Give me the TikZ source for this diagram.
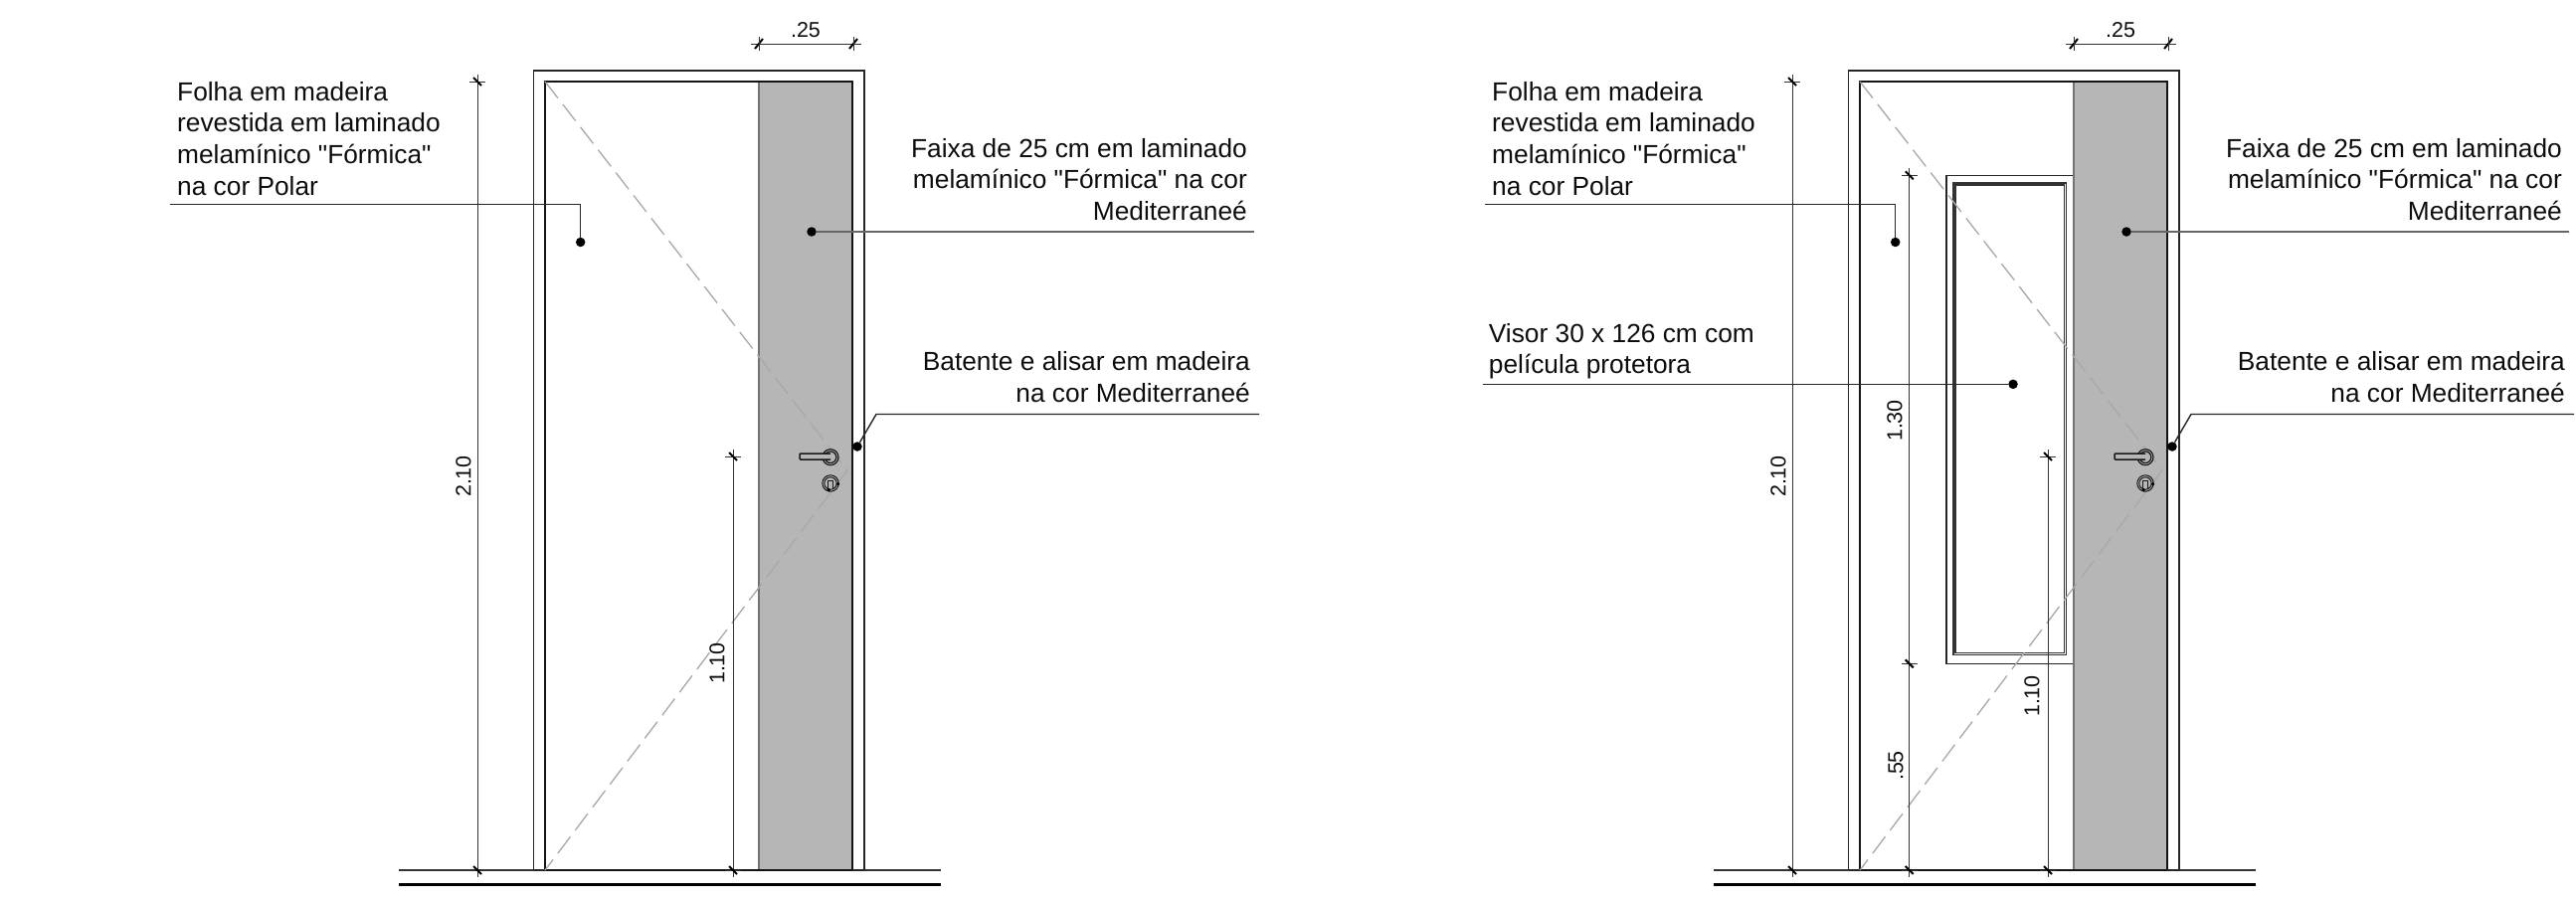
\documentclass[tikz,border=0pt]{standalone}
\usepackage{fontspec}
\setmainfont[Ligatures=TeXOff]{Liberation Sans}
\definecolor{stripe}{HTML}{B6B6B6}
\definecolor{diag}{HTML}{A8A8A8}
\tikzset{
  thinline/.style={line width=1pt,black!80},
  frameline/.style={line width=1.6pt,black!85},
  innerline/.style={line width=2pt,black!92},
  stripeedge/.style={line width=1.6pt,black!55},
  diagline/.style={line width=1.3pt,diag,dash pattern=on 21pt off 8pt},
  ticktip/.style={line width=2pt,black},
  leader/.style={line width=1.4pt,black!85},
  dotmark/.style={circle,fill=black,inner sep=0pt,minimum size=9.5pt},
  note/.style={inner sep=0pt,font=\fontsize{26.3pt}{31.7pt}\selectfont,text=black!95},
  dimtext/.style={inner sep=0pt,font=\fontsize{21.5pt}{24pt}\selectfont,text=black!95},
  hw/.style={line width=1.2pt,black!90},
}
\newcommand{\vtick}[2]{%
  \draw[thinline] (#1-8,#2) -- (#1+8,#2);
  \draw[ticktip] (#1-4,#2-4) -- (#1+4,#2+4);}
\newcommand{\doorbase}[1]{%
  \coordinate (fl) at (401,875); \coordinate (fr) at (946,875);
  \draw[thinline,line width=1.2pt] (fl) -- (fr);
  \coordinate (gl) at (401,889.5); \coordinate (gr) at (946,889.5);
  \draw[line width=3pt,black] (gl) -- (gr);
  \fill[stripe] (763,82) rectangle (857,875);
  \draw[stripeedge] (763,82) -- (763,875);
  \draw[frameline] (536.5,875) -- (536.5,71) -- (869,71) -- (869,875);
  \draw[innerline] (548,875) -- (548,82) -- (857,82) -- (857,875) -- cycle;
  \draw[frameline] (536.5,875) -- (548,875) (857,875) -- (869,875);
  \coordinate (dt) at (548,82); \coordinate (da) at (852,473); \coordinate (db) at (548,875);
  \draw[diagline] (dt) -- (da) -- (db);
  \draw[hw] (835,459.7) circle (8);
  \draw[hw] (835,459.7) circle (5.8);
  \draw[hw,line width=1.5pt,fill=stripe] (835,456) -- (805,456) -- (804,457) -- (804,461) -- (805,462) -- (835,462);
  \draw[hw,line width=1pt] (835,486) circle (8.2);
  \draw[hw,line width=1pt] (835,486) circle (6.2);
  \draw[hw,line width=1pt] (832.8,491) -- (832.8,483) -- (837,483) -- (837,491);
  \fill (842.5,486.7) circle (1.8); \fill (833.3,492.7) circle (1.8);
  \coordinate (a1) at (480,75); \coordinate (a2) at (480,882);
  \draw[thinline] (a1) -- (a2);
  \vtick{480}{82} \vtick{480}{875}
  \node[dimtext,rotate=90] (t210) at (466,479) {2.10};
  \coordinate (b1) at (737,452); \coordinate (b2) at (737,882);
  \draw[thinline] (b1) -- (b2);
  \vtick{737}{459} \vtick{737}{875}
  \node[dimtext,rotate=90] (t110) at (721,#1) {1.10};
  \coordinate (c1) at (755,44); \coordinate (c2) at (866,44);
  \draw[thinline] (c1) -- (c2);
  \draw[ticktip] (759,49) -- (767,39); \draw[ticktip] (854,49) -- (862,39);
  \draw[thinline] (763,37) -- (763,51) (858,37) -- (858,51);
  \node[dimtext] (t25) at (810,30) {.25};
  \node[dotmark] (d1) at (583.7,243.5) {};
  \node[dotmark] (d2) at (816,233) {};
  \node[dotmark] (d3) at (862,449) {};
  \coordinate (l1) at (171,205.5);
  \coordinate (l2) at (1261,233);
  \coordinate (l3a) at (881,416.5); \coordinate (l3) at (1266,416.5);
  \draw[leader] (l1) -| (d1);
  \draw[leader,black!60] (l2) -- (d2);
  \draw[leader] (l3) -- (l3a) -- (d3);
  \node[note,anchor=north west,align=left] (n1) at (178,82) {Folha em madeira\\revestida em laminado\\melamínico "Fórmica"\\na cor Polar};
  \node[note,anchor=north east,align=right] (n2) at (1254,139) {Faixa de 25 cm em laminado\\melamínico "Fórmica" na cor\\Mediterraneé};
  \node[note,anchor=north east,align=right] (n3) at (1257,353.5) {Batente e alisar em madeira\\na cor Mediterraneé};
}
\begin{document}
\begin{tikzpicture}[x=1pt,y=-1pt]
\useasboundingbox (0,0) rectangle (2590,906);
\begin{scope}[name prefix=a-]
  \doorbase{667}
\end{scope}
\begin{scope}[xshift=1322pt,name prefix=b-]
  \draw[frameline] (763,176.3) -- (634.7,176.3) -- (634.7,667.3) -- (763,667.3);
  \draw[line width=1.6pt,black!80] (642.2,184) rectangle (755.5,658.5);
  \draw[line width=1.6pt,black!80] (644.2,186) rectangle (753.5,656.5);
  \doorbase{700}
  \coordinate (e1) at (597.7,169); \coordinate (e2) at (597.7,882);
  \draw[thinline] (e1) -- (e2);
  \vtick{597.7}{176.3} \vtick{597.7}{667.3} \vtick{597.7}{875}
  \node[dimtext,rotate=90] (t130) at (583,423) {1.30};
  \node[dimtext,rotate=90] (t55) at (584,770) {.55};
  \node[dotmark] (d4) at (702,386.3) {};
  \coordinate (l4) at (169,386.3);
  \draw[leader] (l4) -- (d4);
  \node[note,anchor=north west,align=left] (n4) at (174.7,325) {Visor 30 x 126 cm com\\película protetora};
\end{scope}
\end{tikzpicture}
\end{document}
